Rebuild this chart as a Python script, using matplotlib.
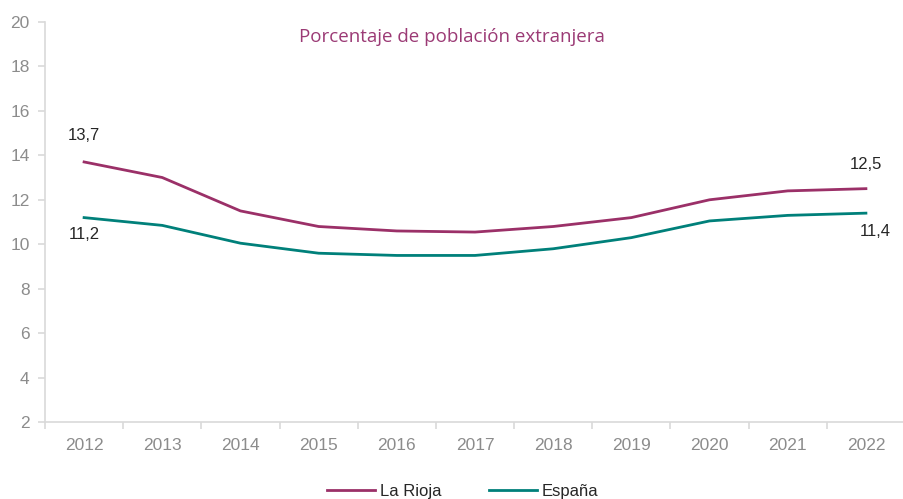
import numpy as np
import matplotlib.pyplot as plt
from matplotlib.ticker import FixedLocator

years = ['2012', '2013', '2014', '2015', '2016', '2017', '2018', '2019', '2020', '2021', '2022']
la_rioja = [13.7, 13.0, 11.5, 10.8, 10.6, 10.55, 10.8, 11.2, 12.0, 12.4, 12.5]
espana = [11.2, 10.85, 10.05, 9.6, 9.5, 9.5, 9.8, 10.3, 11.05, 11.3, 11.4]

plt.rcParams['font.family'] = ['Liberation Sans', 'DejaVu Sans']

fig = plt.figure(figsize=(9.04, 4.99), dpi=100)
ax = fig.add_axes([45 / 904, 1 - 422.4 / 499, 860 / 904, (422.4 - 21.7) / 499])

x = np.arange(len(years))
ax.plot(x, la_rioja, color='#9b3068', lw=2, label='La Rioja')
ax.plot(x, espana, color='#00807a', lw=2, label='España')

# data labels at the first and last year
lab_col = '#262626'
ax.annotate('13,7', (x[0], la_rioja[0]), xytext=(0, 14), textcoords='offset points',
            ha='center', va='bottom', fontsize=12, color=lab_col)
ax.annotate('11,2', (x[0], espana[0]), xytext=(0, -7), textcoords='offset points',
            ha='center', va='top', fontsize=12, color=lab_col)
ax.annotate('12,5', (x[-1], la_rioja[-1]), xytext=(0, 12), textcoords='offset points',
            ha='center', va='bottom', fontsize=12, color=lab_col)
ax.annotate('11,4', (x[-1], espana[-1]), xytext=(7, -8), textcoords='offset points',
            ha='center', va='top', fontsize=12, color=lab_col)

ax.set_xlim(-0.5, 10.5)
ax.set_ylim(2, 20)
ax.set_yticks(np.arange(2, 21, 2))
ax.set_xticks(x)
ax.set_xticklabels(years)
ax.xaxis.set_minor_locator(FixedLocator(np.arange(-0.5, 11, 1)))

for s in ['top', 'right']:
    ax.spines[s].set_visible(False)
for s in ['left', 'bottom']:
    ax.spines[s].set_color('#d9d9d9')
    ax.spines[s].set_linewidth(1.2)

ax.tick_params(axis='y', colors='#d9d9d9', labelcolor='#8c8c8c', labelsize=12.5, length=5, width=1.2, pad=6)
ax.tick_params(axis='x', which='major', length=0, labelcolor='#8c8c8c', labelsize=12.5, pad=11)
ax.tick_params(axis='x', which='minor', length=5, width=1.2, color='#d9d9d9')

fig.text(0.5, 0.926, 'Porcentaje de población extranjera', ha='center', va='center',
         fontsize=13.5, color='#9b3a75', family=['Open Sans', 'DejaVu Sans'])

fig.legend(loc='center', bbox_to_anchor=(0.512, 0.016), ncol=2, frameon=False,
           fontsize=12, handlelength=2.9, handletextpad=0.3, columnspacing=2.8,
           labelcolor='#262626')

fig.savefig('out.png', dpi=100)
